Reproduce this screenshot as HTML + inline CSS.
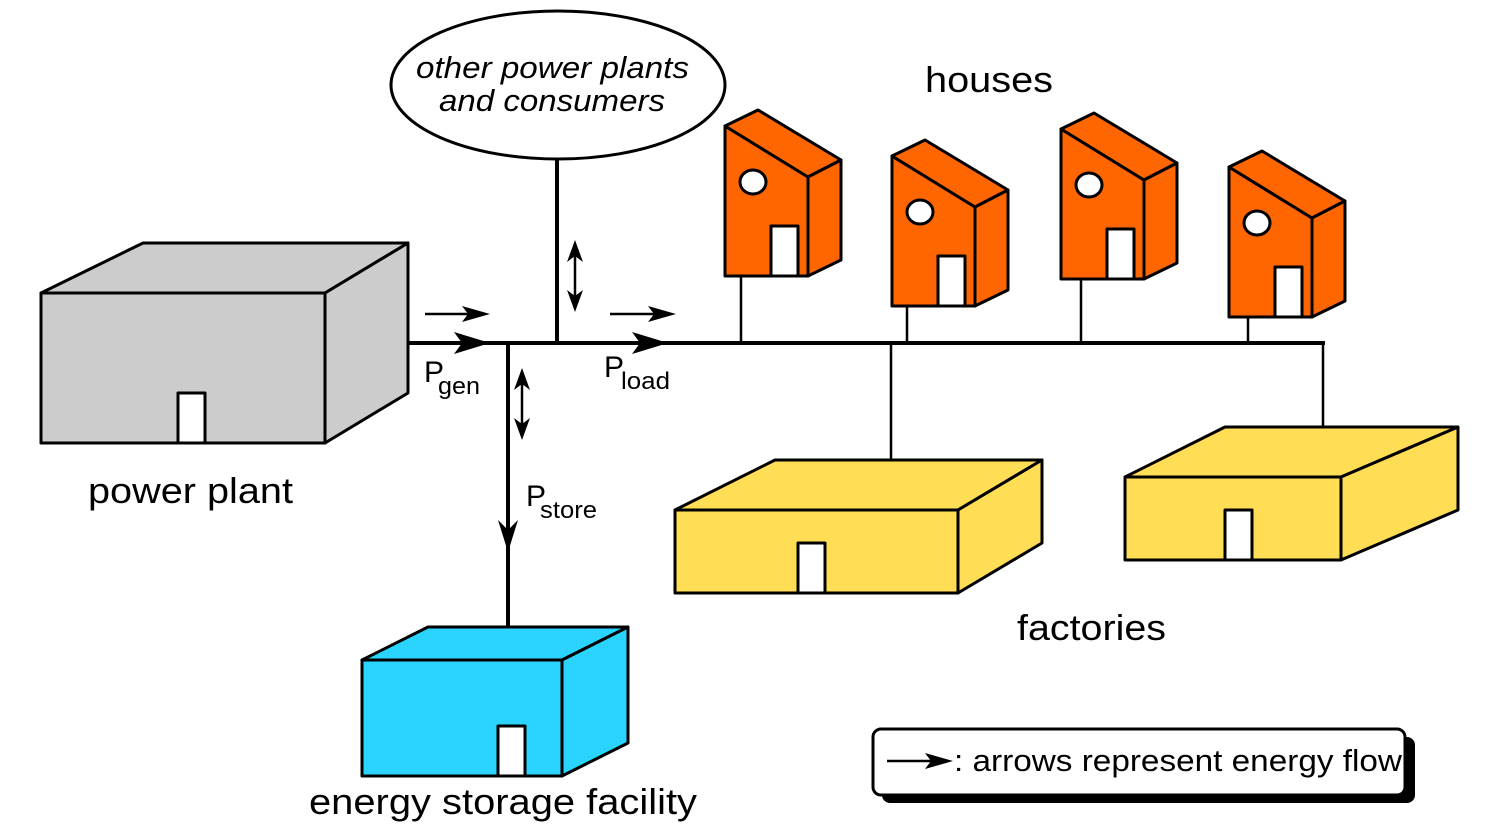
<!DOCTYPE html>
<html><head><meta charset="utf-8"><style>
html,body{margin:0;padding:0;background:#fff}
svg{display:block}
text{font-family:"Liberation Sans",Arial,sans-serif;fill:#000}
</style></head><body>
<svg width="1500" height="832" viewBox="0 0 1500 832" xmlns="http://www.w3.org/2000/svg">
<defs>
<g id="house" stroke="#000" stroke-width="3" stroke-linejoin="round">
  <polygon points="0,0 83,51 83,150 0,150" fill="#ff6600"/>
  <polygon points="0,0 33,-16 116,34 83,51" fill="#ff6600"/>
  <polygon points="83,51 116,34 116,134 83,150" fill="#ff6600"/>
  <ellipse cx="28" cy="56" rx="13" ry="12" fill="#fff"/>
  <rect x="46" y="100" width="27" height="50" fill="#fff"/>
</g>
</defs>

<g stroke="#000" fill="none">
  <line x1="408" y1="343" x2="1325" y2="343" stroke-width="4"/>
  <line x1="557" y1="159" x2="557" y2="343" stroke-width="4"/>
  <line x1="508" y1="343" x2="508" y2="628" stroke-width="4"/>
  <line x1="741" y1="276" x2="741" y2="343" stroke-width="2.5"/>
  <line x1="907" y1="305" x2="907" y2="343" stroke-width="2.5"/>
  <line x1="1081" y1="279" x2="1081" y2="343" stroke-width="2.5"/>
  <line x1="1248" y1="317" x2="1248" y2="343" stroke-width="2.5"/>
  <line x1="891" y1="343" x2="891" y2="461" stroke-width="2.5"/>
  <line x1="1323" y1="343" x2="1323" y2="428" stroke-width="2.5"/>
</g>

<g fill="#000">
  <polygon points="490,343 454,332 462,343 454,354"/>
  <polygon points="668,343 632,332 640,343 632,354"/>
  <polygon points="508,552 498,520 508,530 518,520"/>
</g>
<g stroke="#000" stroke-width="2.5">
  <line x1="425" y1="314" x2="482" y2="314"/>
  <line x1="610" y1="314" x2="668" y2="314"/>
  <line x1="575" y1="252" x2="575" y2="300"/>
  <line x1="522" y1="380" x2="522" y2="428"/>
</g>
<g fill="#000">
  <polygon points="490,314 462,306 468,314 462,322"/>
  <polygon points="676,314 648,306 654,314 648,322"/>
  <polygon points="575,240 567,262 575,256 583,262"/>
  <polygon points="575,312 567,290 575,296 583,290"/>
  <polygon points="522,368 514,390 522,384 530,390"/>
  <polygon points="522,440 514,418 522,424 530,418"/>
</g>

<ellipse cx="558" cy="85" rx="167" ry="74" fill="#fff" stroke="#000" stroke-width="3"/>
<text x="416" y="78" font-size="31" font-style="italic" textLength="273" lengthAdjust="spacingAndGlyphs">other power plants</text>
<text x="439" y="111" font-size="31" font-style="italic" textLength="226" lengthAdjust="spacingAndGlyphs">and consumers</text>

<g stroke="#000" stroke-width="3" stroke-linejoin="round" fill="#cccccc">
  <polygon points="41,293 325,293 325,443 41,443"/>
  <polygon points="41,293 143,243 408,243 325,293"/>
  <polygon points="325,293 408,243 408,393 325,443"/>
  <rect x="178" y="393" width="27" height="50" fill="#fff"/>
</g>

<g stroke="#000" stroke-width="3" stroke-linejoin="round" fill="#2ad4ff">
  <polygon points="362,660 562,660 562,776 362,776"/>
  <polygon points="362,660 428,627 628,627 562,660"/>
  <polygon points="562,660 628,627 628,743 562,776"/>
  <rect x="498" y="726" width="27" height="50" fill="#fff"/>
</g>

<g stroke="#000" stroke-width="3" stroke-linejoin="round" fill="#ffdd55">
  <polygon points="675,510 958,510 958,593 675,593"/>
  <polygon points="675,510 775,460 1042,460 958,510"/>
  <polygon points="958,510 1042,460 1042,543 958,593"/>
  <rect x="798" y="543" width="27" height="50" fill="#fff"/>
</g>
<g stroke="#000" stroke-width="3" stroke-linejoin="round" fill="#ffdd55">
  <polygon points="1125,477 1341,477 1341,560 1125,560"/>
  <polygon points="1125,477 1225,427 1458,427 1341,477"/>
  <polygon points="1341,477 1458,427 1458,510 1341,560"/>
  <rect x="1225" y="510" width="27" height="50" fill="#fff"/>
</g>

<use href="#house" x="725" y="126"/>
<use href="#house" x="892" y="156"/>
<use href="#house" x="1061" y="129"/>
<use href="#house" x="1229" y="167"/>

<text x="925" y="92" font-size="36" textLength="128" lengthAdjust="spacingAndGlyphs">houses</text>
<text x="88" y="503" font-size="36" textLength="205" lengthAdjust="spacingAndGlyphs">power plant</text>
<text x="1017" y="640" font-size="36" textLength="149" lengthAdjust="spacingAndGlyphs">factories</text>
<text x="309" y="814" font-size="36" textLength="388" lengthAdjust="spacingAndGlyphs">energy storage facility</text>
<text x="424" y="382" font-size="30">P</text><text x="438" y="394" font-size="24" textLength="42" lengthAdjust="spacingAndGlyphs">gen</text>
<text x="604" y="377" font-size="30">P</text><text x="621" y="389" font-size="24" textLength="49" lengthAdjust="spacingAndGlyphs">load</text>
<text x="526" y="506" font-size="30">P</text><text x="540" y="518" font-size="24" textLength="57" lengthAdjust="spacingAndGlyphs">store</text>

<rect x="882" y="737" width="533" height="66" rx="8" fill="#000"/>
<rect x="873" y="729" width="532" height="66" rx="8" fill="#fff" stroke="#000" stroke-width="3"/>
<line x1="887" y1="761" x2="945" y2="761" stroke="#000" stroke-width="2.5"/>
<polygon points="953,761 925,753 931,761 925,769" fill="#000"/>
<text x="954" y="771" font-size="31" textLength="448" lengthAdjust="spacingAndGlyphs">: arrows represent energy flow</text>
</svg>
</body></html>
